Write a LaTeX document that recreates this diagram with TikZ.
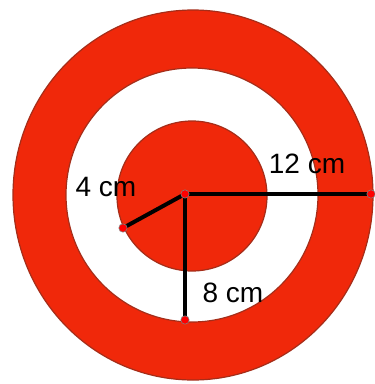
\documentclass[tikz,border=0pt]{standalone}
\usepackage{fontspec}
\setmainfont{Liberation Sans}
\usetikzlibrary{positioning}
\definecolor{targetred}{RGB}{240,40,10}
\definecolor{rimred}{RGB}{165,45,25}

\begin{document}
\begin{tikzpicture}[x=1pt,y=-1pt,line cap=round,line join=round,
	radiusline/.style={black,line width=4pt},
	enddot/.style={fill=red,draw=black!50,line width=0.6pt},
	cmlabel/.style={inner sep=0pt,font=\fontsize{28}{30}\selectfont}]
		\useasboundingbox (0,0) rectangle (375,384);
		\fill[white] (0,0) rectangle (375,384);
		% rings of the target
		\filldraw[fill=targetred,draw=rimred,line width=1.2pt] (193,195) ellipse [x radius=180,y radius=185];
		\filldraw[fill=white,draw=rimred,line width=1.2pt] (192,195) ellipse [x radius=126,y radius=127];
		\filldraw[fill=targetred,draw=rimred,line width=1.2pt] (192,196) circle [radius=75];
		% radii
		\coordinate (centre) at (185,194);
		\coordinate (rimR) at (371,194);
		\coordinate (rimB) at (185,320);
		\coordinate (rimL) at (123,228);
		\draw[radiusline] (centre) -- (rimR);
		\draw[radiusline] (centre) -- (rimB);
		\draw[radiusline] (centre) -- (rimL);
		\foreach \p in {centre,rimR,rimB,rimL}
			\filldraw[enddot] (\p) circle [radius=4.2];
		% lengths
		\node[cmlabel] (lab12) at (307,164) {12 cm};
		\node[cmlabel] (lab4) at (106,187) {4 cm};
		\node[cmlabel] (lab8) at (233,293) {8 cm};
\end{tikzpicture}
\end{document}
